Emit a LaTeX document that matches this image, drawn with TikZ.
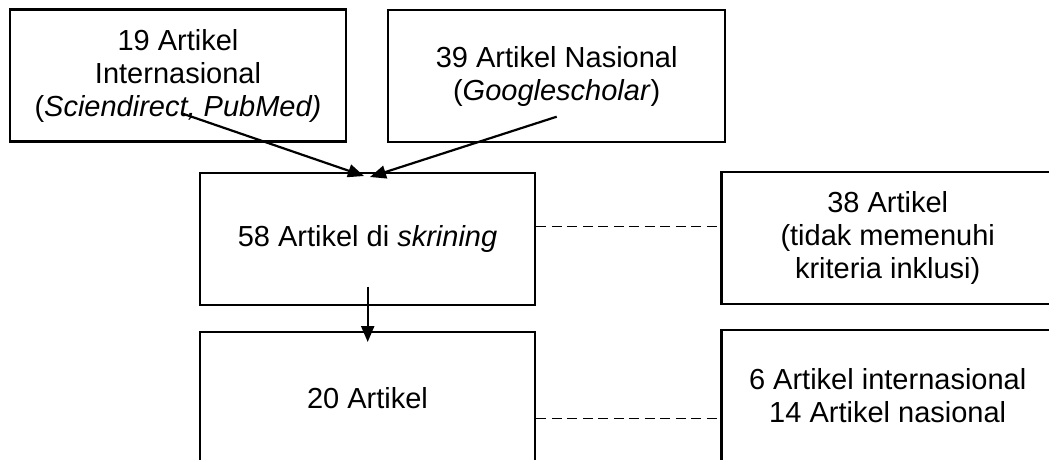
\documentclass[tikz,border=0pt]{standalone}
\usepackage{fontspec}
\setmainfont{Liberation Sans}
\usetikzlibrary{arrows.meta}
\tikzset{
  box/.style={draw=black, line width=2.5pt, fill=none, align=center,
    inner sep=0pt, minimum width=335pt, minimum height=132pt,
    font=\fontsize{29}{33}\selectfont},
  flow/.style={line width=2.2pt, -{Triangle[length=16pt,width=13pt]}},
  link/.style={line width=1.3pt, dash pattern=on 10pt off 5.5pt},
}
\begin{document}
\begin{tikzpicture}[x=1pt,y=-1pt]
  \useasboundingbox (0,0) rectangle (1049,459);
  \clip (0,0) rectangle (1049,459);
  \fill[white] (0,0) rectangle (1049,459);

  % sources
  \node[box, minimum width=336pt] (intl) at (178,75.5)
    {19 Artikel\\Internasional\\(\textit{Sciendirect, PubMed)}};
  \node[box, minimum width=337pt] (nasl) at (556.7,76)
    {39 Artikel Nasional\\(\textit{Googlescholar})};

  % screening and result
  \node[box] (skrin) at (367.5,239) {58 Artikel di \textit{skrining}};
  \node[box] (hasil) at (367.5,398) {20 Artikel};

  % side notes
  \node[box, minimum width=332pt] (eksk) at (887.7,238)
    {38 Artikel\\(tidak memenuhi\\kriteria inklusi)};
  \node[box, minimum width=332pt] (rinci) at (887.7,396)
    {6 Artikel internasional\\14 Artikel nasional};

  % arrow anchors
  \coordinate (intlStart) at (181.7,113.3);
  \coordinate (intlEnd) at (364,176);
  \coordinate (naslStart) at (556.7,116.7);
  \coordinate (naslEnd) at (370,177);
  \coordinate (skrinStart) at (367.7,286.7);
  \coordinate (hasilEnd) at (367.7,342);

  \draw[flow] (intlStart) -- (intlEnd);
  \draw[flow] (naslStart) -- (naslEnd);
  \draw[flow] (skrinStart) -- (hasilEnd);

  % dashed links
  \draw[link] (skrin.east |- 0,226.7) -- (eksk.west |- 0,226.7);
  \draw[link] (hasil.east |- 0,418.5) -- (rinci.west |- 0,418.5);
\end{tikzpicture}
\end{document}
